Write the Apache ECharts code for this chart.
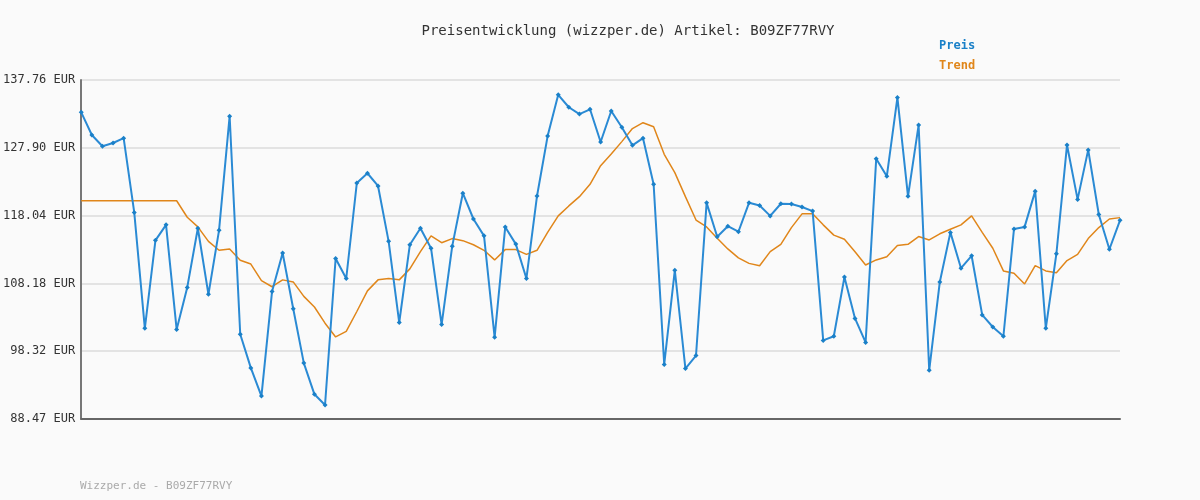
<!DOCTYPE html>
<html><head><meta charset="utf-8">
<script src="https://cdn.jsdelivr.net/npm/echarts@6/dist/echarts.min.js"></script>
<style>html,body{margin:0;padding:0;background:#fafafa}#c{width:1200px;height:500px}</style>
</head><body><div id="c"></div>
<script>
const preis = [133.06,129.76,128.12,128.6,129.3,118.5,101.65,114.45,116.7,101.5,107.6,116.2,106.6,115.9,132.5,100.8,95.9,91.8,107.0,112.6,104.5,96.6,92.06,90.5,111.8,108.9,122.8,124.2,122.35,114.3,102.5,113.8,116.2,113.3,102.2,113.6,121.3,117.55,115.1,100.35,116.4,113.9,108.9,120.9,129.6,135.6,133.8,132.8,133.5,128.75,133.25,130.9,128.26,129.3,122.6,96.4,110.1,95.8,97.7,119.9,114.97,116.5,115.7,119.9,119.5,118.0,119.77,119.73,119.3,118.7,99.9,100.5,109.1,103.1,99.6,126.3,123.76,135.2,120.85,131.2,95.55,108.4,115.6,110.4,112.2,103.6,101.85,100.5,116.1,116.4,121.6,101.66,112.5,128.3,120.4,127.6,118.2,113.15,117.36];
const trend = [120.2,120.2,120.2,120.2,120.2,120.2,120.2,120.2,120.2,120.2,117.8,116.4,114.3,113.0,113.2,111.55,111.0,108.6,107.7,108.7,108.4,106.3,104.75,102.4,100.4,101.2,104.1,107.1,108.7,108.9,108.7,110.3,112.8,115.1,114.1,114.7,114.4,113.8,113.0,111.6,113.1,113.1,112.4,113.0,115.6,118.0,119.45,120.8,122.6,125.3,127.0,128.8,130.7,131.55,130.97,126.96,124.3,120.8,117.4,116.4,114.75,113.2,111.9,111.1,110.76,112.8,113.87,116.3,118.3,118.3,116.7,115.2,114.6,112.8,110.86,111.6,112.07,113.7,113.87,115.0,114.5,115.4,116.05,116.7,118.0,115.6,113.3,110.0,109.66,108.1,110.76,110.0,109.75,111.5,112.4,114.7,116.3,117.55,117.75];
const tickLabels = ['88.47 EUR','98.32 EUR','108.18 EUR','118.04 EUR','127.90 EUR','137.76 EUR'];
const categories = preis.map((_, i) => String(i + 1));
const yMin = 88.47, yMax = 137.76, yInt = (yMax - yMin) / 5;
const font = '"DejaVu Sans Mono", monospace';
const chart = echarts.init(document.getElementById('c'));
chart.setOption({
  backgroundColor: '#fafafa',
  animation: false,
  title: { text: 'Preisentwicklung (wizzper.de) Artikel: B09ZF77RVY', left: 623, top: 19, textAlign: 'center',
    textStyle: { fontFamily: font, fontSize: 14, fontWeight: 'normal', color: '#333' } },
  graphic: [
    { type: 'text', left: 939, top: 40, style: { text: 'Preis', fill: '#1a80c8', font: 'bold 12px ' + font } },
    { type: 'text', left: 939, top: 60, style: { text: 'Trend', fill: '#e0861a', font: 'bold 12px ' + font } },
    { type: 'text', left: 80, top: 481, style: { text: 'Wizzper.de - B09ZF77RVY', fill: '#aaa', font: '11px ' + font } }
  ],
  grid: { left: 80, right: 80, top: 80, bottom: 81 },
  xAxis: { type: 'category', data: categories, boundaryGap: false,
    axisLine: { lineStyle: { color: '#666', width: 2 } }, axisTick: { show: false }, axisLabel: { show: false } },
  yAxis: { type: 'value', min: yMin, max: yMax, interval: yInt,
    axisLine: { show: true, lineStyle: { color: '#777', width: 2 } },
    axisTick: { show: false },
    splitLine: { lineStyle: { color: '#e3e3e3', width: 2 } },
    axisLabel: { fontFamily: font, fontSize: 12, color: '#333', margin: 6,
      formatter: v => tickLabels[Math.round((v - yMin) / yInt)] || '' } },
  series: [
    { name: 'Trend', type: 'line', data: trend, symbol: 'none', z: 2,
      lineStyle: { color: '#e0861a', width: 1.5 } },
    { name: 'Preis', type: 'line', data: preis, symbol: 'diamond', symbolSize: 5, z: 3,
      itemStyle: { color: '#1a80c8' }, lineStyle: { color: '#2a8ad4', width: 2 } }
  ]
});
</script></body></html>
